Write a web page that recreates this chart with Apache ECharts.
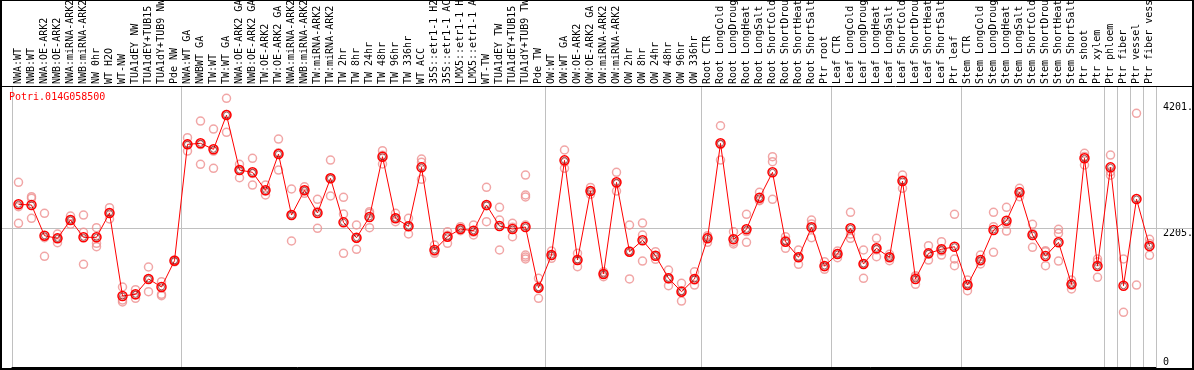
<!DOCTYPE html>
<html><head><meta charset="utf-8">
<script src="https://cdn.jsdelivr.net/npm/echarts@6/dist/echarts.min.js"></script>
<style>html,body{margin:0;padding:0;background:#fff}#c{width:1194px;height:370px}</style>
</head><body><div id="c"></div>
<script>
const geneId = 'Potri.014G058500';

const categories = [
  'NWA:WT','NWB:WT','NWA:OE-ARK2','NWB:OE-ARK2','NWA:miRNA-ARK2','NWB:miRNA-ARK2','NW 0hr','WT H2O','WT-NW','TUA1dEY NW','TUA1dEY+TUB15','TUA1dY+TUB9 NW','Pde NW',
  'NWA:WT GA','NWBWT GA','TW:WT','TW:WT GA','NWA:OE-ARK2 GA','NWB:OE-ARK2 GA','TW:OE-ARK2','TW:OE-ARK2 GA','NWA:miRNA-ARK2','NWB:miRNA-ARK2','TW:miRNA-ARK2','TW:miRNA-ARK2',
  'TW 2hr','TW 8hr','TW 24hr','TW 48hr','TW 96hr','TW 336hr','WT ACC','35S::etr1-1 H2O','35S::etr1-1 ACC','LMX5::etr1-1 H2O','LMX5::etr1-1 ACC','WT-TW','TUA1dEY TW','TUA1dEY+TUB15 TW','TUA1dY+TUB9 TW','Pde TW',
  'OW:WT','OW:WT GA','OW:OE-ARK2','OW:OE-ARK2 GA','OW:miRNA-ARK2','OW:miRNA-ARK2','OW 2hr','OW 8hr','OW 24hr','OW 48hr','OW 96hr','OW 336hr',
  'Root CTR','Root LongCold','Root LongDrought','Root LongHeat','Root LongSalt','Root ShortCold','Root ShortDrought','Root ShortHeat','Root ShortSalt','Ptr root',
  'Leaf CTR','Leaf LongCold','Leaf LongDrought','Leaf LongHeat','Leaf LongSalt','Leaf ShortCold','Leaf ShortDrought','Leaf ShortHeat','Leaf ShortSalt','Ptr leaf',
  'Stem CTR','Stem LongCold','Stem LongDrought','Stem LongHeat','Stem LongSalt','Stem ShortCold','Stem ShortDrought','Stem ShortHeat','Stem ShortSalt','Ptr shoot','Ptr xylem',
  'Ptr phloem','Ptr fiber','Ptr vessel','Ptr fiber vessel'
];

// index of first category of each group (separator lines)
const groupStarts = [0, 13, 41, 53, 63, 73, 84, 85, 86, 87];

const means = [
  2582, 2571, 2084, 2042, 2333, 2058, 2058, 2444, 1127, 1154, 1397, 1270, 1687,
  3534, 3550, 3455, 3999, 3126, 3090, 2804, 3380, 2412, 2804, 2444, 2995,
  2296, 2052, 2381, 3338, 2360, 2233, 3169, 1857, 2068, 2190, 2163, 2571, 2238, 2190, 2222, 1259,
  1777, 3280, 1698, 2793, 1476, 2931, 1830, 2011, 1766, 1408, 1195, 1397,
  2042, 3550, 2027, 2185, 2687, 3090, 1989, 1741, 2217, 1603,
  1793, 2201, 1635, 1884, 1741, 2952, 1397, 1804, 1868, 1909,
  1301, 1698, 2174, 2322, 2772, 2095, 1762, 1979, 1312, 3312, 1603,
  3169, 1290, 2666, 1920
];

const replicates = [
  [2931, 2544, 2281], [2703, 2677, 2360], [2439, 2052, 1757], [2111, 2042, 1973], [2396, 2333, 2265],
  [2412, 2138, 1630], [2211, 1963, 1909], [2528, 2444, 2349], [1270, 1063, 1032], [1227, 1143, 1090],
  [1587, 1397, 1195], [1354, 1154, 1132], [1700, 1687, 1670],
  [3639, 3534, 3428], [3904, 3530, 3217], [3777, 3428, 3153], [4264, 4008, 3725], [3217, 3126, 3004],
  [3312, 3070, 2888], [2888, 2795, 2730], [3618, 3400, 3126], [2825, 2412, 2000], [2861, 2800, 2757],
  [2661, 2470, 2201], [3285, 2990, 2714], [2693, 2428, 1804], [2254, 2040, 1868], [2465, 2440, 2211],
  [3433, 3360, 3222], [2439, 2360, 2306], [2360, 2230, 2111], [3301, 3249, 2979], [1936, 1830, 1804],
  [2147, 2090, 1963], [2227, 2190, 2163], [2254, 2140, 2095], [2852, 2560, 2306], [2534, 2333, 1857],
  [2281, 2220, 2068], [3047, 2730, 2698, 2254, 1777, 1745, 1715], [1408, 1270, 1090],
  [1841, 1770, 1725], [3444, 3250, 3153], [1804, 1700, 1592], [2850, 2790, 2740], [1512, 1480, 1433],
  [3090, 2910, 2793], [2254, 1840, 1397], [2285, 2095, 1682], [1830, 1760, 1709], [1539, 1400, 1290],
  [1328, 1210, 1047], [1512, 1380, 1301],
  [2084, 2060, 1979], [3829, 3530, 3285], [2147, 1980, 1952], [2423, 2150, 1979], [2772, 2650, 2640],
  [3338, 3258, 2661], [2068, 2010, 1884], [1857, 1740, 1630], [2333, 2270, 2052], [1671, 1590, 1550],
  [1841, 1800, 1735], [2455, 2110, 2042], [1857, 1640, 1408], [2042, 1860, 1750], [1789, 1745, 1687],
  [3047, 2970, 2836], [1449, 1430, 1312], [1925, 1790, 1698], [1989, 1840, 1777], [2423, 1714, 1608],
  [1381, 1310, 1211], [1777, 1680, 1635], [2455, 2227, 1820], [2534, 2270, 2158], [2836, 2780, 2703],
  [2265, 2120, 1900], [1846, 1830, 1608], [2185, 2122, 1682], [1381, 1320, 1238], [3391, 3340, 3206],
  [1714, 1670, 1424],
  [3364, 3099, 3045], [1714, 868], [4026, 1301], [2027, 1960, 1773]
];

const yLabelValues = [2205, 4201];
const yZeroLabel = [0];
const referenceValue = 2205;
const yMax = 4460;

const FONT = 'DejaVu Sans Mono';
const chart = echarts.init(document.getElementById('c'), null, {renderer: 'canvas'});

const repPoints = [];
replicates.forEach((arr, i) => arr.forEach(v => repPoints.push([i, v])));
const meanPoints = means.map((v, i) => [i, v]);
const sepFn = (idx) => groupStarts.includes(idx);

const yAxisBase = {
  type: 'value', min: 0, max: yMax, position: 'right',
  axisLine: {show: false}, axisTick: {show: false}, splitLine: {show: false}
};

chart.setOption({
  animation: false,
  backgroundColor: '#fff',
  title: {
    text: geneId, left: 9, top: 92, padding: 0,
    textStyle: {color: '#ff0000', fontFamily: FONT, fontSize: 10, fontWeight: 'normal'}
  },
  grid: {left: 12, right: 38, top: 86, bottom: 3, containLabel: false, outerBoundsMode: 'none'},
  xAxis: {
    type: 'category', position: 'top', data: categories, boundaryGap: true,
    axisLine: {show: true, lineStyle: {color: '#000', width: 1}},
    axisTick: {show: true, interval: sepFn, length: 86, lineStyle: {color: '#c0c0c0', width: 1}},
    splitLine: {show: true, interval: sepFn, lineStyle: {color: '#c0c0c0', width: 1}},
    axisLabel: {interval: 0, rotate: 90, margin: 2, fontFamily: FONT, fontSize: 10, color: '#000', hideOverlap: false}
  },
  yAxis: [
    Object.assign({}, yAxisBase, {axisLabel: {customValues: yLabelValues, formatter: v => v + '.', verticalAlign: 'top', margin: 7, fontFamily: FONT, fontSize: 10, color: '#000'}}),
    Object.assign({}, yAxisBase, {axisLabel: {customValues: yZeroLabel, formatter: v => String(v), verticalAlign: 'bottom', margin: 7, fontFamily: FONT, fontSize: 10, color: '#000'}})
  ],
  series: [
    {
      type: 'scatter', data: repPoints, symbol: 'circle', symbolSize: 8,
      itemStyle: {color: 'rgba(0,0,0,0)', borderColor: '#ee9090', borderWidth: 1.5}, z: 2
    },
    {
      type: 'line', data: means, symbol: 'circle', symbolSize: 9, showSymbol: true,
      lineStyle: {color: '#ff0000', width: 1},
      itemStyle: {color: 'rgba(0,0,0,0)', borderColor: '#ff0000', borderWidth: 1.5}, z: 3
    },
    {
      type: 'scatter', data: meanPoints, symbol: 'circle', symbolSize: 6,
      itemStyle: {color: 'rgba(0,0,0,0)', borderColor: '#600000', borderWidth: 0.8}, z: 4
    }
  ]
});

const refY = Math.round(chart.convertToPixel({yAxisIndex: 0}, referenceValue)) + 0.5;
chart.setOption({
  graphic: [
    {type: 'line', z: 1, silent: true, shape: {x1: 1, y1: refY, x2: 1193, y2: refY}, style: {stroke: '#c0c0c0', lineWidth: 1}},
    {type: 'line', z: 10, silent: true, shape: {x1: 0, y1: 86.5, x2: 1194, y2: 86.5}, style: {stroke: '#000', lineWidth: 1}},
    {type: 'rect', z: 10, silent: true, shape: {x: 1, y: 0, width: 1192, height: 369}, style: {fill: 'none', stroke: '#000', lineWidth: 2}}
  ]
});
</script>
</body></html>
